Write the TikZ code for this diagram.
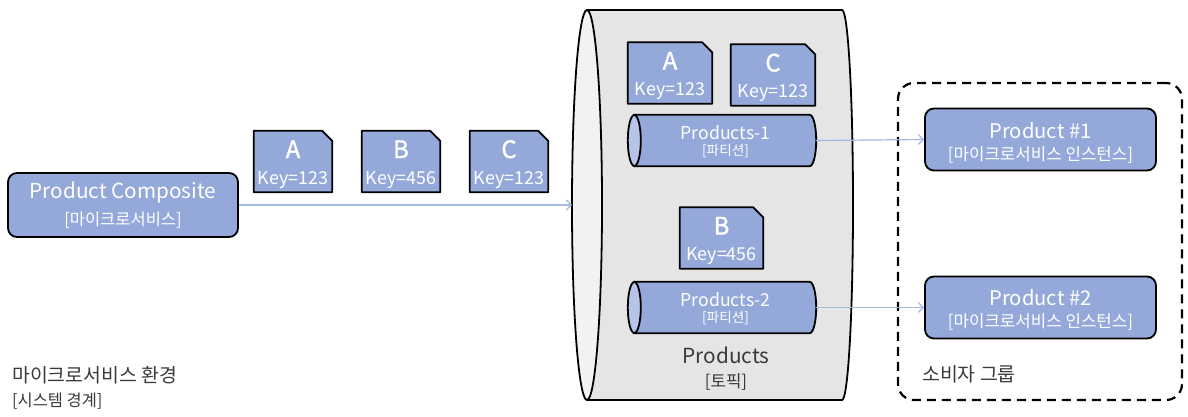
\documentclass[tikz,border=0pt]{standalone}
\usepackage{fontspec}
\setmainfont{Noto Sans CJK KR}
\newfontfamily\medfont[FakeBold=1.2]{Noto Sans CJK KR}
\usetikzlibrary{arrows.meta}
\definecolor{boxblue}{HTML}{94A9D9}
\definecolor{endblue}{HTML}{B5C4E8}
\definecolor{arrowblue}{HTML}{A4B8E3}
\definecolor{topicgrey}{HTML}{E5E5E5}
\definecolor{topicend}{HTML}{F2F2F2}
\definecolor{labelgrey}{HTML}{3A3A3A}
\newcommand\fsz[1]{\fontsize{#1}{#1}\selectfont}
\tikzset{
  svcbox/.style={draw=black, line width=1.8pt, fill=boxblue, rounded corners=9pt, inner sep=0pt},
  docbody/.style={draw=none, inner sep=0pt, minimum height=61pt},
  docline/.style={draw=black, line width=1.8pt, fill=boxblue, line join=round},
  partbody/.style={draw=none, inner sep=0pt, minimum width=188pt, minimum height=51pt},
  cyl/.style={draw=black, line width=1.8pt},
  wtext/.style={text=white, anchor=base, inner sep=0pt},
  gtext/.style={text=labelgrey, anchor=base, inner sep=0pt},
  flow/.style={draw=arrowblue, line width=1.2pt, -{Straight Barb[length=5pt,width=10pt]}},
  grpbox/.style={draw=black, line width=2.2pt, dash pattern=on 9pt off 6pt, rounded corners=16pt, inner sep=0pt},
}
\newcommand\msgdoc[6]{%
  \node[docbody, minimum width=#4pt] (#1) at (#2,#3) {};
  \draw[docline] (#1.south west) -- (#1.north west) -- ([xshift=-10pt]#1.north east) -- ([yshift=-10pt]#1.north east) -- (#1.south east) -- cycle;
  \node[wtext, font=\medfont\fsz{24}] (#1-l) at ([yshift=3.5pt]#1.center) {#5};
  \node[wtext, font=\fsz{17.8}] (#1-k) at ([yshift=-22.5pt]#1.center) {#6};
}
\newcommand\partcyl[4]{%
  \node[partbody] (#1) at (#2,#3) {};
  \draw[cyl, fill=boxblue] ([xshift=6.5pt]#1.north west) -- ([xshift=-6.5pt]#1.north east)
    .. controls ([xshift=-2.9pt]#1.north east) and ([yshift=14.1pt]#1.east) .. (#1.east)
    .. controls ([yshift=-14.1pt]#1.east) and ([xshift=-2.9pt]#1.south east) .. ([xshift=-6.5pt]#1.south east)
    -- ([xshift=6.5pt]#1.south west) -- cycle;
  \draw[cyl, fill=endblue] ([xshift=6.5pt]#1.west) ellipse [x radius=6.5, y radius=25.5];
  \node[wtext, font=\fsz{17.7}] (#1-t) at ([xshift=3.5pt,yshift=1.5pt]#1.center) {#4};
  \node[wtext, font=\fsz{13.6}] (#1-s) at ([xshift=3.5pt,yshift=-15pt]#1.center) {[파티션]};
}
\begin{document}
\begin{tikzpicture}[x=1pt,y=-1pt]
\useasboundingbox (0,0) rectangle (1188,416);

% topic cylinder
\path[cyl, fill=topicgrey] (587,10) -- (842,10) .. controls (848.1,10) and (853,97.3) .. (853,205)
   .. controls (853,312.7) and (848.1,400) .. (842,400) -- (587,400) -- cycle;
\draw[cyl, fill=topicend] (587,205) ellipse [x radius=15, y radius=195];
\coordinate (topicin) at (572,205);
\node[gtext, font=\fsz{20.8}] (topic-t) at (726,363) {Products};
\node[gtext, font=\fsz{16.8}] (topic-s) at (726,387) {[토픽]};

% producer
\node[svcbox, minimum width=230pt, minimum height=64pt] (pc) at (123,205) {};
\node[wtext, font=\fsz{20.7}] (pc-t) at (123,198.5) {Product Composite};
\node[wtext, font=\fsz{16.5}] (pc-s) at (123,225) {[마이크로서비스]};

% messages in transit
\msgdoc{ma}{293}{161.5}{78}{A}{Key=123}
\msgdoc{mb}{401}{161.5}{78}{B}{Key=456}
\msgdoc{mc}{509}{161.5}{78}{C}{Key=123}

% messages in topic
\msgdoc{ta}{670}{73}{84}{A}{Key=123}
\msgdoc{tc}{773}{75}{84}{C}{Key=123}
\msgdoc{tb}{721.5}{238}{83}{B}{Key=456}

% partitions
\partcyl{p1}{722}{140.5}{Products-1}
\partcyl{p2}{722}{307.5}{Products-2}

% consumer group
\node[grpbox, minimum width=284pt, minimum height=317pt] (grp) at (1040,241.5) {};
\node[svcbox, minimum width=231pt, minimum height=62pt] (prod1) at (1040.5,139.5) {};
\node[wtext, font=\fsz{20.2}] (prod1-t) at (1040.5,138) {Product \#1};
\node[wtext, font=\fsz{16.8}] (prod1-s) at (1040.5,160) {[마이크로서비스 인스턴스]};
\node[svcbox, minimum width=231pt, minimum height=62pt] (prod2) at (1040.5,307.5) {};
\node[wtext, font=\fsz{20.2}] (prod2-t) at (1040.5,305) {Product \#2};
\node[wtext, font=\fsz{16.8}] (prod2-s) at (1040.5,327) {[마이크로서비스 인스턴스]};
\node[gtext, font=\fsz{19.4}, anchor=base west] (grp-l) at (922,381) {소비자 그룹};

% system boundary label
\node[gtext, font=\fsz{19.4}, anchor=base west] (env-t) at (12,382) {마이크로서비스 환경};
\node[gtext, font=\fsz{16.4}, anchor=base west] (env-s) at (12,406) {[시스템 경계]};

% connectors
\draw[flow] (pc.east) -- (topicin);
\draw[flow] (p1.east) -- (prod1.west);
\draw[flow] (p2.east) -- (prod2.west);
\end{tikzpicture}
\end{document}
